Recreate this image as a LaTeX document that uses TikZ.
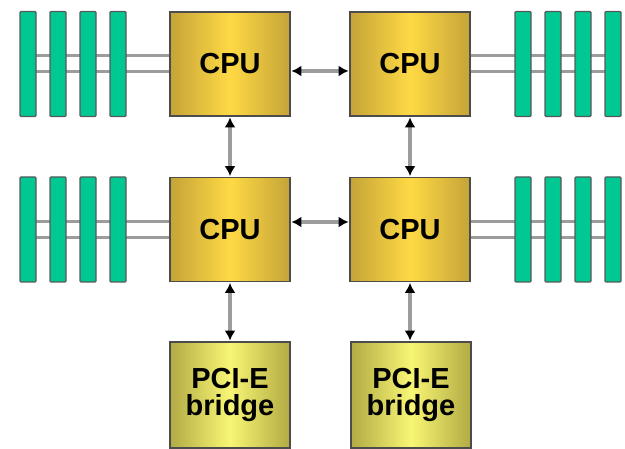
\documentclass[tikz,border=0pt]{standalone}
\usepackage{fontspec}
\setmainfont{Liberation Sans}
\usepackage{tikz}
\usetikzlibrary{arrows.meta,positioning,backgrounds}
\definecolor{CpuEdge}{HTML}{C4A438}
\definecolor{CpuMid}{HTML}{FFD944}
\definecolor{BrEdge}{HTML}{B2AA44}
\definecolor{BrMid}{HTML}{F8F674}
\definecolor{Dimm}{HTML}{00C893}
\definecolor{Bus}{HTML}{9C9C9C}

\begin{document}
\begin{tikzpicture}[x=1pt, y=-1pt,
  cpu/.style={draw=black!70, line width=1.8pt, left color=CpuEdge, right color=CpuEdge,
    middle color=CpuMid, minimum width=120pt, minimum height=104pt,
    font=\bfseries\fontsize{29}{27}\selectfont, align=center},
  bridge/.style={cpu, left color=BrEdge, right color=BrEdge, middle color=BrMid,
    minimum height=106pt},
  dimm/.style={draw=black!65, line width=1.4pt, fill=Dimm, rounded corners=1pt,
    minimum width=16pt, minimum height=105pt, inner sep=0pt},
  bus/.style={draw=Bus, line width=3pt},
  link/.style={{Latex[length=10pt,width=11pt,color=black]}-{Latex[length=10pt,width=11pt,color=black]},
    draw=Bus, line width=3.5pt, shorten <=0.5pt, shorten >=0.5pt}
]
  \useasboundingbox (0,0) rectangle (625,449);

  \node[cpu] (cpuA) at (230,64) {CPU};
  \node[cpu] (cpuB) at (410,64) {CPU};
  \node[cpu] (cpuC) at (230,229.5) {CPU};
  \node[cpu] (cpuD) at (410,229.5) {CPU};
  \node[bridge] (pciL) at (230,395) {PCI-E\\bridge};
  \node[bridge] (pciR) at (411,395) {PCI-E\\bridge};

  % memory modules
  \foreach \i in {0,...,3} {
    \node[dimm] (dA\i) at (28+30*\i,64) {};
    \node[dimm] (dB\i) at (523+30*\i,64) {};
    \node[dimm] (dC\i) at (28+30*\i,229.5) {};
    \node[dimm] (dD\i) at (523+30*\i,229.5) {};
  }

  \begin{scope}[on background layer]
    \foreach \s in {-8,8} {
      \draw[bus] ([yshift=\s]dA0.center) -- ([yshift=\s]cpuA.west);
      \draw[bus] ([yshift=\s]dB3.center) -- ([yshift=\s]cpuB.east);
      \draw[bus] ([yshift=\s]dC0.center) -- ([yshift=\s]cpuC.west);
      \draw[bus] ([yshift=\s]dD3.center) -- ([yshift=\s]cpuD.east);
    }
  \end{scope}

  \draw[link] ([yshift=-7]cpuA.east) -- ([yshift=-7]cpuB.west);
  \draw[link] ([yshift=7.5]cpuC.east) -- ([yshift=7.5]cpuD.west);
  \draw[link] (cpuA) -- (cpuC);
  \draw[link] (cpuB) -- (cpuD);
  \draw[link] (cpuC) -- (pciL);
  \draw[link] (cpuD.south) -- (cpuD.south |- pciR.north);
\end{tikzpicture}
\end{document}
